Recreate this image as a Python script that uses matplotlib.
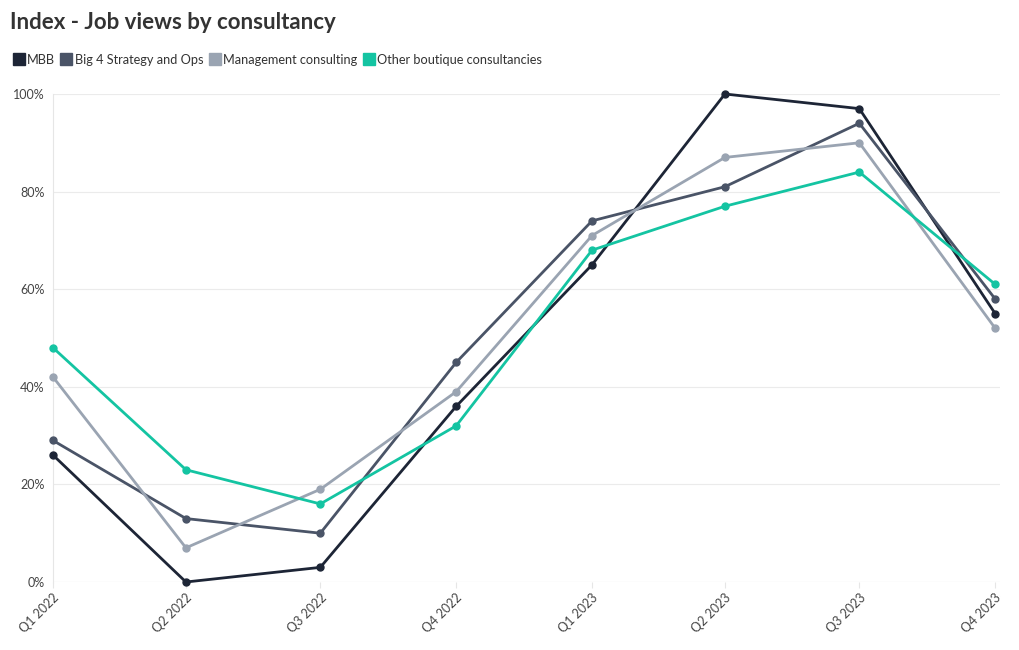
import matplotlib
matplotlib.use("Agg")
import matplotlib.pyplot as plt
from matplotlib.lines import Line2D
from matplotlib.ticker import FuncFormatter
import numpy as np

quarters = ["2022-01-01", "2022-04-01", "2022-07-01", "2022-10-01",
            "2023-01-01", "2023-04-01", "2023-07-01", "2023-10-01"]
quarter_labels = ["Q1 2022", "Q2 2022", "Q3 2022", "Q4 2022",
                  "Q1 2023", "Q2 2023", "Q3 2023", "Q4 2023"]

series_names = ["MBB", "Big 4 Strategy and Ops", "Management consulting",
                "Other boutique consultancies"]
mbb = [26, 0, 3, 36, 65, 100, 97, 55]
big4 = [29, 13, 10, 45, 74, 81, 94, 58]
management = [42, 7, 19, 39, 71, 87, 90, 52]
boutique = [48, 23, 16, 32, 68, 77, 84, 61]
colors = ["#1d2536", "#4a5467", "#9aa4b2", "#14c4a2"]

plt.rcParams['font.family'] = ['Lato', 'DejaVu Sans']

dates = np.array(quarters, dtype="datetime64[D]")

fig = plt.figure(figsize=(10.2, 6.5), dpi=100)
ax = fig.add_axes([0.052, 0.1046, 0.928, 0.7508])

for vals, name, c in zip([mbb, big4, management, boutique], series_names, colors):
    ax.plot(dates, vals, color=c, linewidth=2.0, marker='o', markersize=5,
            label=name, zorder=3, clip_on=False)

ax.set_ylim(0, 100)
ax.set_yticks([0, 20, 40, 60, 80, 100])
ax.yaxis.set_major_formatter(FuncFormatter(lambda v, p: f"{v:.0f}%"))
ax.set_xlim(dates[0], dates[-1] + np.timedelta64(3, 'D'))
ax.set_xticks(dates)
ax.set_xticklabels(quarter_labels, rotation=45, ha='right', rotation_mode='anchor')

ax.grid(axis='y', color='#ebebeb', linewidth=0.8)
for s in ['top', 'right', 'bottom']:
    ax.spines[s].set_visible(False)
ax.spines['left'].set_color('#e6e6e6')
ax.tick_params(axis='y', length=0, labelsize=9, colors='#444444', pad=6)
ax.tick_params(axis='x', length=4, color='#e6e6e6', labelsize=9, colors='#444444', pad=3)
ax.axhline(0, color='#e6e6e6', linewidth=0.8, zorder=1)

fig.text(0.01, 0.965, "Index - Job views by consultancy", fontsize=16,
         fontweight='bold', color='#333333', va='center', ha='left')

handles = [Line2D([0], [0], marker='s', linestyle='', markersize=8,
                  markerfacecolor=c, markeredgecolor=c) for c in colors]
fig.legend(handles, series_names, loc='center left', bbox_to_anchor=(0.002, 0.908),
           ncol=4, frameon=False, fontsize=9.2, handletextpad=0.25,
           columnspacing=0.5, handlelength=0.8, labelcolor='#333333')

fig.savefig("out.png", dpi=100, facecolor='white')
